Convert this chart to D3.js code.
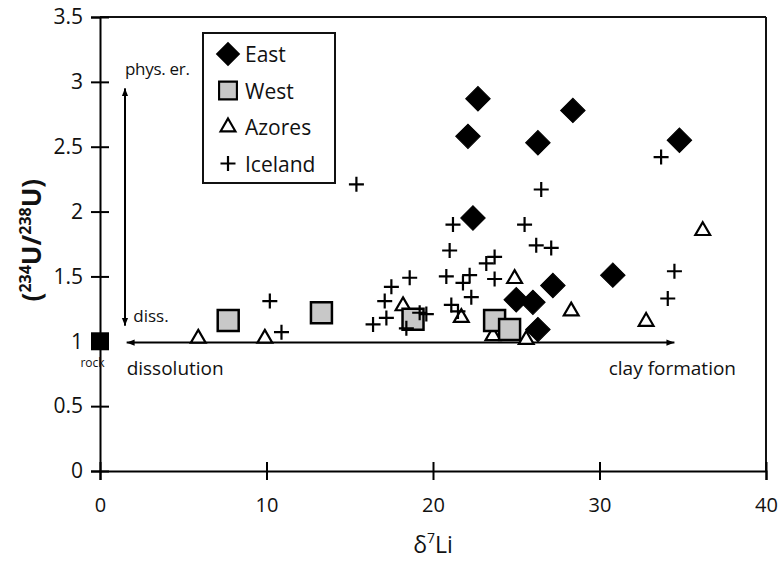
<html lang="en">
<head>
<meta charset="utf-8">
<title>U isotopes vs Li</title>
<style>
    body { margin: 0; background: #fff; }
    svg text { font-family: "Open Sans", sans-serif; fill: #111; }
</style>
</head>
<body>
<div id="chart"></div>
<script src="https://cdnjs.cloudflare.com/ajax/libs/d3/7.8.5/d3.min.js"></script>
<script>

    // data: [d7Li, (234U/238U)]
    var east = [
        [22.7, 2.87], [28.4, 2.78], [22.1, 2.58], [26.3, 2.53], [34.8, 2.55],
        [22.4, 1.95], [30.8, 1.51], [27.2, 1.43], [25.0, 1.32], [26.0, 1.30],
        [26.3, 1.09]
    ];
    var west = [
        [7.7, 1.16], [13.3, 1.22], [18.8, 1.17], [23.7, 1.16], [24.6, 1.09]
    ];
    var azores = [
        [5.9, 1.03], [9.9, 1.03], [18.2, 1.28], [21.7, 1.19], [24.9, 1.49],
        [23.6, 1.05], [25.6, 1.02], [28.3, 1.24], [32.8, 1.16], [36.2, 1.86]
    ];
    var iceland = [
        [33.7, 2.42], [26.5, 2.17], [15.4, 2.21], [21.2, 1.90], [25.5, 1.90],
        [21.0, 1.70], [26.2, 1.74], [27.1, 1.72], [23.7, 1.65], [23.2, 1.60],
        [18.6, 1.49], [20.8, 1.50], [22.2, 1.51], [21.8, 1.45], [23.7, 1.48],
        [34.5, 1.54], [34.1, 1.33], [22.3, 1.34], [21.1, 1.28], [21.5, 1.23],
        [17.5, 1.42], [17.1, 1.31], [17.2, 1.18], [16.4, 1.13], [18.4, 1.10],
        [19.2, 1.22], [19.6, 1.21], [10.2, 1.31], [10.9, 1.07]
    ];
    var rock = [[0, 1]];

    var xTicks = [0, 10, 20, 30, 40];
    var yTicks = [0, 0.5, 1, 1.5, 2, 2.5, 3, 3.5];
    var legendNames = ["East", "West", "Azores", "Iceland"];

    var fullwidth = 783, fullheight = 571;
    var margin = {top: 17, right: 17, bottom: 100, left: 100};
    var width = fullwidth - margin.left - margin.right;
    var height = fullheight - margin.top - margin.bottom;

    var svg = d3.select("#chart").append("svg")
        .attr("width", fullwidth)
        .attr("height", fullheight);

    var defs = svg.append("defs");
    defs.append("marker")
        .attr("id", "head")
        .attr("viewBox", "0 0 10 10")
        .attr("refX", 10).attr("refY", 5)
        .attr("markerWidth", 8).attr("markerHeight", 8)
        .attr("markerUnits", "userSpaceOnUse")
        .attr("orient", "auto-start-reverse")
        .append("path")
        .attr("d", "M0,1 L10,5 L0,9 Z")
        .attr("fill", "#000");

    var g = svg.append("g")
        .attr("transform", "translate(" + margin.left + "," + margin.top + ")");

    var xScale = d3.scaleLinear().domain([0, 40]).range([0, width]);
    var yScale = d3.scaleLinear().domain([0, 3.5]).range([height, 0]);

    // frame top + right
    g.append("line").attr("x1", 0).attr("x2", width).attr("y1", 0).attr("y2", 0)
        .attr("stroke", "#111").attr("stroke-width", 2);
    g.append("line").attr("x1", width).attr("x2", width).attr("y1", 0).attr("y2", height)
        .attr("stroke", "#111").attr("stroke-width", 2);

    // axes, ticks crossing the line
    var xAxis = g.append("g")
        .attr("transform", "translate(0," + height + ")")
        .call(d3.axisBottom(xScale).tickValues(xTicks).tickSize(9).tickPadding(18)
            .tickFormat(d3.format("~g")));
    xAxis.selectAll(".tick line").attr("y1", -9);

    var yAxis = g.append("g")
        .call(d3.axisLeft(yScale).tickValues(yTicks).tickSize(9).tickPadding(8)
            .tickFormat(d3.format("~g")));
    yAxis.selectAll(".tick line").attr("x1", 9);

    [xAxis, yAxis].forEach(function(a) {
        a.select(".domain").attr("stroke", "#000").attr("stroke-width", 2);
        a.selectAll(".tick line").attr("stroke", "#000").attr("stroke-width", 2);
        a.selectAll(".tick text").attr("font-size", 21).attr("fill", "#111")
            .attr("font-family", "'Open Sans', sans-serif");
    });
    xAxis.selectAll(".tick text").attr("font-size", 20);

    // annotation arrows
    g.append("line")
        .attr("x1", xScale(1.5)).attr("x2", xScale(1.5))
        .attr("y1", yScale(1.12)).attr("y2", yScale(2.95))
        .attr("stroke", "#000").attr("stroke-width", 2)
        .attr("marker-start", "url(#head)").attr("marker-end", "url(#head)");
    g.append("line")
        .attr("x1", xScale(1.6)).attr("x2", xScale(34.5))
        .attr("y1", yScale(0.99)).attr("y2", yScale(0.99))
        .attr("stroke", "#000").attr("stroke-width", 2)
        .attr("marker-start", "url(#head)").attr("marker-end", "url(#head)");

    g.append("text").attr("x", xScale(1.5)).attr("y", yScale(3.05))
        .attr("font-size", 17).attr("letter-spacing", -0.3).text("phys. er.");
    g.append("text").attr("x", xScale(2)).attr("y", yScale(1.15))
        .attr("font-size", 17).text("diss.");
    g.append("text").attr("x", xScale(1.6)).attr("y", yScale(0.74))
        .attr("font-size", 19).text("dissolution");
    g.append("text").attr("x", xScale(38.2)).attr("y", yScale(0.74))
        .attr("text-anchor", "end").attr("font-size", 19).text("clay formation");
    g.append("text").attr("x", xScale(-0.45)).attr("y", yScale(0.8))
        .attr("text-anchor", "middle").attr("font-size", 12).attr("fill", "#444").text("rock");

    // symbols
    var diamond = d3.symbol().type(d3.symbolSquare).size(300);
    var square = d3.symbol().type(d3.symbolSquare).size(440);
    var triangle = d3.symbol().type(d3.symbolTriangle).size(95);
    var plus = "M-7.5,0H7.5M0,-7.5V7.5";

    function pos(d) { return "translate(" + xScale(d[0]) + "," + yScale(d[1]) + ")"; }

    g.selectAll("path.azores").data(azores).enter().append("path")
        .attr("class", "azores").attr("d", triangle).attr("transform", function(d) { return pos(d) + " translate(0,1)"; })
        .attr("fill", "#fff").attr("stroke", "#000").attr("stroke-width", 2.2);

    g.selectAll("path.west").data(west).enter().append("path")
        .attr("class", "west").attr("d", square).attr("transform", pos)
        .attr("fill", "#c8c8c8").attr("stroke", "#000").attr("stroke-width", 2.5);

    g.selectAll("path.iceland").data(iceland).enter().append("path")
        .attr("class", "iceland").attr("d", plus).attr("transform", pos)
        .attr("fill", "none").attr("stroke", "#000").attr("stroke-width", 2.2);

    g.selectAll("path.east").data(east).enter().append("path")
        .attr("class", "east").attr("d", diamond).attr("transform", function(d) { return pos(d) + " rotate(45)"; })
        .attr("fill", "#000").attr("stroke", "#000").attr("stroke-width", 1);

    g.selectAll("rect.rock").data(rock).enter().append("rect")
        .attr("class", "rock")
        .attr("x", function(d) { return xScale(d[0]) - 9; })
        .attr("y", function(d) { return yScale(d[1]) - 9; })
        .attr("width", 18).attr("height", 18).attr("fill", "#000");

    // legend
    var legend = svg.append("g").attr("transform", "translate(203,33)");
    legend.append("rect").attr("width", 132).attr("height", 150)
        .attr("fill", "#fff").attr("stroke", "#111").attr("stroke-width", 2);
    var item = legend.selectAll("g.item").data(legendNames).enter().append("g")
        .attr("class", "item")
        .attr("transform", function(d, i) { return "translate(0," + (21 + i * 36.5) + ")"; });
    item.append("text").attr("x", 42).attr("y", 8).attr("font-size", 21)
        .text(function(d) { return d; });
    item.each(function(d, i) {
        var it = d3.select(this).append("path").attr("transform", "translate(25,0)");
        if (i === 0) it.attr("d", diamond).attr("transform", "translate(25,0) rotate(45)").attr("fill", "#000");
        if (i === 1) it.attr("d", square).attr("transform", "translate(25,0) scale(0.85)")
            .attr("fill", "#c8c8c8").attr("stroke", "#000").attr("stroke-width", 2.5);
        if (i === 2) it.attr("d", triangle).attr("fill", "#fff").attr("stroke", "#000").attr("stroke-width", 2.2);
        if (i === 3) it.attr("d", plus).attr("fill", "none").attr("stroke", "#000").attr("stroke-width", 2.2);
    });

    // axis titles
    var yt = svg.append("text")
        .attr("transform", "translate(41," + (margin.top + yScale(1.78)) + ") rotate(-90)")
        .attr("text-anchor", "middle").attr("font-size", 26).attr("font-weight", "bold");
    yt.append("tspan").text("(");
    yt.append("tspan").attr("font-size", 16).attr("dy", -10).text("234");
    yt.append("tspan").attr("dy", 10).text("U/");
    yt.append("tspan").attr("font-size", 16).attr("dy", -10).text("238");
    yt.append("tspan").attr("dy", 10).text("U)");

    var xt = svg.append("text")
        .attr("x", margin.left + xScale(20)).attr("y", 553)
        .attr("text-anchor", "middle").attr("font-size", 23);
    xt.append("tspan").text("δ");
    xt.append("tspan").attr("font-size", 14).attr("dy", -10).text("7");
    xt.append("tspan").attr("dy", 10).text("Li");

</script>
</body>
</html>
